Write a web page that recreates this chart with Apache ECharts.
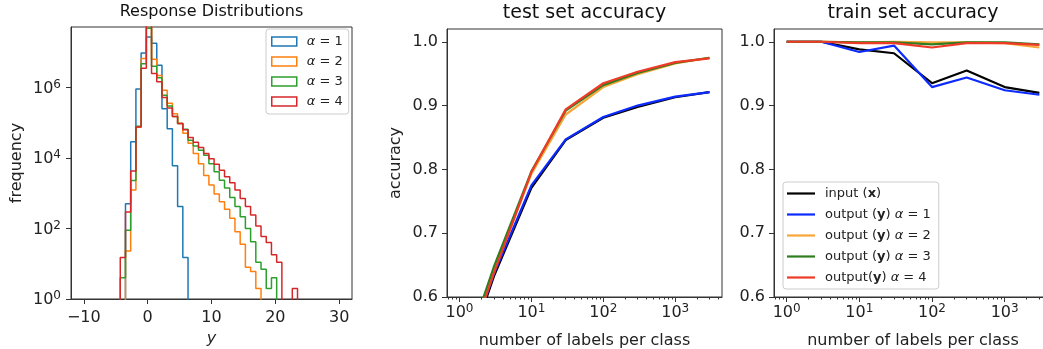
<!DOCTYPE html>
<html>
<head>
<meta charset="utf-8">
<script src="https://cdn.jsdelivr.net/npm/echarts@6/dist/echarts.min.js"></script>
<style>
  html, body { margin: 0; padding: 0; background: #fff; }
  #chart { width: 1043px; height: 349px; }
</style>
</head>
<body>
<div id="chart"></div>
<script>
// ---- histogram (Response Distributions) ----
// 49 equal bins between -10 and 30, counts listed from bin index 7 onward
const binStart = -10;
const binEnd = 30;
const binCount = 49;
const firstBin = 7;
const histNames = ['α = 1', 'α = 2', 'α = 3', 'α = 4'];
const histA1 = [0, 500, 29000, 910000, 9.5e6, 2.7e7, 1.8e7, 4.3e6, 2.5e5, 68000, 6000, 420, 15];
const histA2 = [0, 23, 1230, 74000, 6.6e6, 6e7, 6.3e6, 2.2e6, 8.3e5, 3.6e5, 1.8e5, 95000, 50000,
  26000, 13500, 6900, 3200, 1700, 950, 575, 350, 195, 81, 36, 8, 6, 2];
const histA3 = [4, 89, 2300, 79000, 4.7e6, 4.8e7, 4e6, 1.9e6, 6e5, 3e5, 1.5e5, 95000, 65000,
  32000, 22000, 16500, 12000, 6900, 4100, 2350, 1400, 760, 420, 215, 100, 42, 11, 7, 2, 4];
const histA4 = [15, 295, 4300, 76000, 3.5e6, 6.5e7, 2.5e6, 1.45e6, 5.2e5, 2.6e5, 1.5e5, 95000, 63000,
  38000, 28000, 20000, 13500, 9500, 6600, 4500, 2950, 2000, 1230, 710, 420, 240, 117, 59, 40, 18, 11,
  0, 0, 2];
const histColors = ['#1f77b4', '#ff7f0e', '#2ca02c', '#d62728'];
const histXTicks = [-10, 0, 10, 20, 30];
const histYTicks = [1, 100, 10000, 1000000];

// ---- accuracy panels ----
const labelsPerClass = [1, 3, 10, 30, 100, 300, 1000, 3000];
const accNames = ['input (x)', 'output (y) α = 1', 'output (y) α = 2', 'output (y) α = 3', 'output(y) α = 4'];
const accColors = ['#000000', '#0b2bff', '#f7a637', '#2e7d1f', '#ee3a26'];
const testInput = [0.475, 0.632, 0.771, 0.846, 0.881, 0.898, 0.913, 0.921];
const testA1 = [0.48, 0.636, 0.775, 0.847, 0.882, 0.900, 0.914, 0.921];
const testA2 = [0.485, 0.640, 0.793, 0.886, 0.929, 0.949, 0.966, 0.975];
const testA3 = [0.489, 0.647, 0.797, 0.892, 0.932, 0.951, 0.967, 0.975];
const testA4 = [0.482, 0.637, 0.796, 0.894, 0.935, 0.953, 0.968, 0.974];
const trainInput = [1.0, 1.0, 0.988, 0.982, 0.935, 0.955, 0.929, 0.920];
const trainA1 = [1.0, 1.0, 0.984, 0.994, 0.929, 0.944, 0.924, 0.917];
const trainA2 = [1.0, 1.0, 0.999, 1.0, 0.999, 0.999, 0.998, 0.991];
const trainA3 = [1.0, 1.0, 0.999, 0.999, 0.996, 0.999, 0.999, 0.996];
const trainA4 = [1.0, 1.0, 0.998, 0.998, 0.991, 0.998, 0.998, 0.995];
const accYTicks = [0.6, 0.7, 0.8, 0.9, 1.0];
const logMajor = [1, 10, 100, 1000];
const logMinor = [0.7, 0.8, 0.9, 2, 3, 4, 5, 6, 7, 8, 9, 20, 30, 40, 50, 60, 70, 80, 90,
  200, 300, 400, 500, 600, 700, 800, 900, 2000, 3000, 4000];

const FONT = 'DejaVu Sans';
const binWidth = (binEnd - binStart) / binCount;
const zeroFloor = 0.01; // empty bins sit below the visible range

function histSteps(counts) {
  const pts = [];
  for (let k = 0; k < binCount; k++) {
    const i = k - firstBin;
    const c = i >= 0 && i < counts.length ? counts[i] : 0;
    pts.push([binStart + k * binWidth, c > 0 ? c : zeroFloor]);
  }
  pts.push([binEnd, zeroFloor]);
  return pts;
}

// 10^n tick labels, exponent drawn as a raised smaller token
function pow10Label(v) {
  return '{b|10}{s|' + Math.round(Math.log10(v)) + '}';
}
const powRich = {
  b: { fontSize: 16, color: '#222', fontFamily: FONT, verticalAlign: 'bottom' },
  s: { fontSize: 12, color: '#222', fontFamily: FONT, verticalAlign: 'bottom', padding: [0, 0, 6, 0] }
};

function legendRich(name) {
  return name.replace('(x)', '({bx|x})').replace('(y)', '({bx|y})').replace('α', '{i|α}');
}

const tickStyle = { color: '#333', width: 1 };
const spine = { show: true, onZero: false, lineStyle: { color: '#333', width: 1 } };
const labelText = { fontSize: 16, color: '#222', fontFamily: FONT };
const legendRichStyles = {
  i: { fontStyle: 'italic', fontSize: 13, color: '#222', fontFamily: FONT },
  bx: { fontWeight: 'bold', fontSize: 13, color: '#222', fontFamily: FONT }
};

const myChart = echarts.init(document.getElementById('chart'));

// outerBoundsMode none: keep the plot boxes where they are, labels may sit outside
const grids = [
  { left: 71, top: 27, width: 281, height: 272 },
  { left: 447, top: 29, width: 275, height: 268 },
  { left: 774, top: 29, width: 278, height: 268 }
].map(g => Object.assign(g, {
  show: true, borderColor: '#333', borderWidth: 1, containLabel: false, outerBoundsMode: 'none'
}));

function logXAxis(gridIndex, name) {
  return [
    {
      gridIndex, type: 'log', logBase: 10, min: 0.67, max: 4477, position: 'bottom',
      axisLine: spine, splitLine: { show: false },
      axisTick: { show: true, customValues: logMajor, length: 5, lineStyle: tickStyle },
      axisLabel: { customValues: logMajor, formatter: pow10Label, rich: powRich, margin: 6 },
      name, nameLocation: 'middle', nameGap: 36,
      nameTextStyle: labelText
    },
    {
      gridIndex, type: 'log', logBase: 10, min: 0.67, max: 4477, position: 'bottom',
      axisLine: { show: false, onZero: false }, splitLine: { show: false },
      axisTick: { show: true, customValues: logMinor, length: 2.5, lineStyle: tickStyle },
      axisLabel: { show: false }
    }
  ];
}

function accYAxis(gridIndex, name) {
  return {
    gridIndex, type: 'value', min: 0.6, max: 1.02,
    axisLine: spine, splitLine: { show: false },
    axisTick: { show: true, customValues: accYTicks, length: 5, lineStyle: tickStyle },
    axisLabel: Object.assign({ customValues: accYTicks, formatter: v => v.toFixed(1), margin: 9 }, labelText),
    name, nameLocation: 'middle', nameGap: 43,
    nameTextStyle: labelText
  };
}

const histSeries = [histA1, histA2, histA3, histA4].map((counts, i) => ({
  name: histNames[i],
  type: 'line',
  xAxisIndex: 0,
  yAxisIndex: 0,
  step: 'end',
  symbol: 'none',
  clip: true,
  lineStyle: { color: histColors[i], width: 1.5 },
  itemStyle: { color: histColors[i] },
  data: histSteps(counts)
}));

function accSeries(lists, xAxisIndex, yAxisIndex) {
  return lists.map((vals, i) => ({
    name: accNames[i],
    type: 'line',
    xAxisIndex,
    yAxisIndex,
    symbol: 'none',
    clip: true,
    lineStyle: { color: accColors[i], width: 2.2 },
    itemStyle: { color: accColors[i] },
    data: labelsPerClass.map((x, j) => [x, vals[j]])
  }));
}

const option = {
  animation: false,
  textStyle: { fontFamily: FONT },
  grid: grids,
  graphic: [
    { type: 'text', x: 211.5, y: 12, style: { text: 'Response Distributions', font: '16px "DejaVu Sans"', fill: '#111', align: 'center', verticalAlign: 'middle' } },
    { type: 'text', x: 584.5, y: 13.5, style: { text: 'test set accuracy', font: '19px "DejaVu Sans"', fill: '#111', align: 'center', verticalAlign: 'middle' } },
    { type: 'text', x: 913, y: 13.5, style: { text: 'train set accuracy', font: '19px "DejaVu Sans"', fill: '#111', align: 'center', verticalAlign: 'middle' } }
  ],
  legend: [
    {
      orient: 'vertical', left: 266, top: 29, selectedMode: false,
      itemWidth: 25, itemHeight: 9, itemGap: 7,
      padding: [6, 6, 6, 5],
      backgroundColor: 'rgba(255,255,255,0.8)', borderColor: '#ccc', borderWidth: 1, borderRadius: 3,
      data: histNames.map((n, i) => ({
        name: n, icon: 'rect',
        itemStyle: { color: 'rgba(0,0,0,0)', borderColor: histColors[i], borderWidth: 1.5 }
      })),
      formatter: legendRich,
      textStyle: { fontSize: 13, color: '#222', fontFamily: FONT, padding: [0, 0, 0, 5], rich: legendRichStyles }
    },
    {
      orient: 'vertical', left: 783, top: 182, selectedMode: false,
      itemWidth: 28, itemHeight: 2.2, itemGap: 8,
      padding: [5, 8, 5, 4],
      backgroundColor: 'rgba(255,255,255,0.8)', borderColor: '#ccc', borderWidth: 1, borderRadius: 3,
      data: accNames.map((n, i) => ({ name: n, icon: 'rect', itemStyle: { color: accColors[i] } })),
      formatter: legendRich,
      textStyle: { fontSize: 13, color: '#222', fontFamily: FONT, padding: [0, 0, 0, 5], rich: legendRichStyles }
    }
  ],
  xAxis: [
    {
      gridIndex: 0, type: 'value', min: -12, max: 32,
      axisLine: spine, splitLine: { show: false },
      axisTick: { show: true, customValues: histXTicks, length: 5, lineStyle: tickStyle },
      axisLabel: Object.assign({
        customValues: histXTicks, formatter: v => (v < 0 ? '−' + (-v) : String(v)), margin: 11
      }, labelText),
      name: 'y', nameLocation: 'middle', nameGap: 31,
      nameTextStyle: { fontSize: 16, fontStyle: 'italic', color: '#222', fontFamily: FONT }
    },
    ...logXAxis(1, 'number of labels per class'),
    ...logXAxis(2, 'number of labels per class')
  ],
  yAxis: [
    {
      gridIndex: 0, type: 'log', logBase: 10, min: 1, max: 5.2e7,
      axisLine: spine, splitLine: { show: false },
      axisTick: { show: true, customValues: histYTicks, length: 5, lineStyle: tickStyle },
      axisLabel: { customValues: histYTicks, formatter: pow10Label, rich: powRich, margin: 10 },
      name: 'frequency', nameLocation: 'middle', nameGap: 46,
      nameTextStyle: labelText
    },
    accYAxis(1, 'accuracy'),
    accYAxis(2, '')
  ],
  series: [
    ...histSeries,
    ...accSeries([testInput, testA1, testA2, testA3, testA4], 1, 1),
    ...accSeries([trainInput, trainA1, trainA2, trainA3, trainA4], 3, 2)
  ]
};

myChart.setOption(option);
</script>
</body>
</html>
